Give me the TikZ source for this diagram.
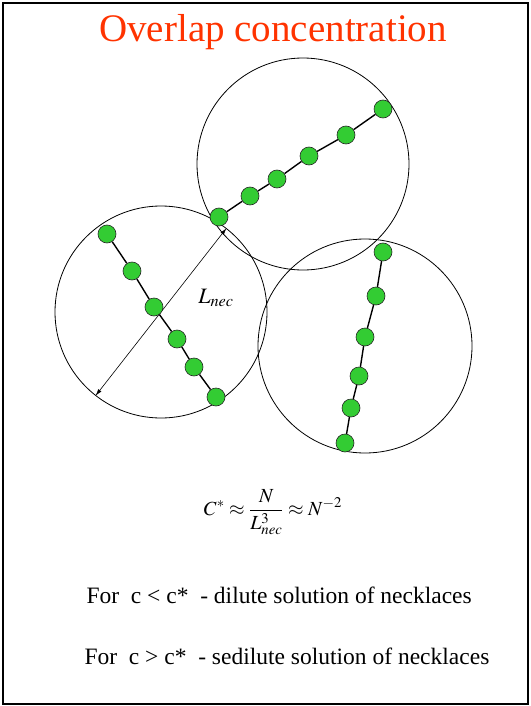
\documentclass[tikz,border=0pt]{standalone}
\usepackage{mathptmx}
\usepackage{fontspec}
\setmainfont{Liberation Serif}
\usetikzlibrary{arrows.meta}
\definecolor{titlered}{RGB}{255,51,0}
\definecolor{beadgreen}{RGB}{51,204,51}

\begin{document}
\begin{tikzpicture}[x=1pt, y=-1pt,
  coil/.style={draw, circle, line width=0.8pt, minimum size=#1, inner sep=0pt},
  bead/.style={draw=black!85, fill=beadgreen, circle, minimum size=18pt, inner sep=0pt, line width=0.6pt},
  link/.style={line width=1.4pt},
  dim/.style={{Latex[length=7pt,width=4pt]}-{Latex[length=7pt,width=4pt]}, line width=0.6pt},
  txt/.style={font=\fontsize{23.5}{28}\selectfont, anchor=west}]
  \useasboundingbox (0,0) rectangle (530,706);
  \draw[line width=2pt] (3,3) rectangle (528,704);
  \node[font=\fontsize{39}{44}\selectfont, text=titlered] (title) at (273,32) {Overlap concentration};
  % three coils
  \node[coil=212pt] (left) at (161,312) {};
  \node[coil=212pt] (top) at (303,164) {};
  \node[coil=214pt] (right) at (365,346) {};
  \draw[dim] (left.232) -- (left.52);
  \node[font=\fontsize{22}{26}\selectfont] (len) at (216,298) {$L_{nec}$};
  % beads
  \node[bead] (a1) at (107,234) {}; \node[bead] (a2) at (132,271) {}; \node[bead] (a3) at (154,307) {};
  \node[bead] (a4) at (177,339) {}; \node[bead] (a5) at (194,367) {}; \node[bead] (a6) at (216,397) {};
  \node[bead] (b1) at (219,217) {}; \node[bead] (b2) at (250,196) {}; \node[bead] (b3) at (277,179) {};
  \node[bead] (b4) at (309,156) {}; \node[bead] (b5) at (346,135) {}; \node[bead] (b6) at (383,109) {};
  \node[bead] (c1) at (383,252) {}; \node[bead] (c2) at (376,296) {}; \node[bead] (c3) at (365,337) {};
  \node[bead] (c4) at (359,376) {}; \node[bead] (c5) at (351,408) {}; \node[bead] (c6) at (345,443) {};
  \draw[link] (a1) -- (a2) -- (a3) -- (a4) -- (a5) -- (a6);
  \draw[link] (b1) -- (b2) -- (b3) -- (b4) -- (b5) -- (b6);
  \draw[link] (c1) -- (c2) -- (c3) -- (c4) -- (c5) -- (c6);
  % formula and text
  \node[font=\fontsize{20}{24}\selectfont] (eq) at (273,512) {$\displaystyle C^{*}\approx\frac{N}{L_{nec}^{3}}\approx N^{-2}$};
  \node[txt] (dil) at (83,595) {For\ \ c < c*\ \ - dilute solution of necklaces};
  \node[txt] (sdil) at (81,656) {For\ \ c > c*\ \ - sedilute solution of necklaces};
\end{tikzpicture}
\end{document}
